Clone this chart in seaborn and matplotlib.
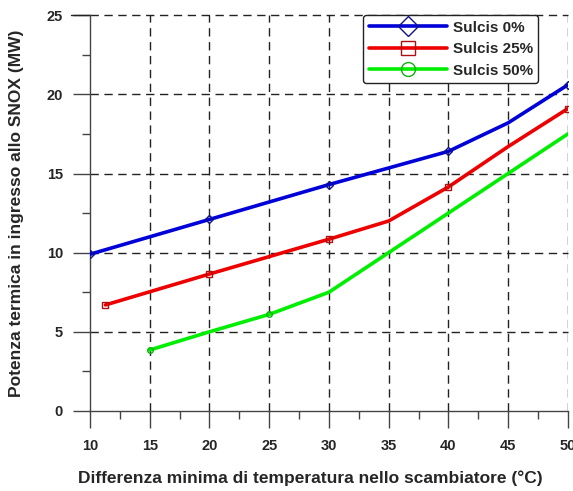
import matplotlib
matplotlib.use("Agg")
import matplotlib.pyplot as plt
from matplotlib.lines import Line2D
from matplotlib.ticker import MultipleLocator
import seaborn as sns
import pandas as pd

sns.set_theme(style="white")
plt.rcParams["font.family"] = ["Liberation Sans", "DejaVu Sans"]
plt.rcParams["font.weight"] = "bold"

# Potenza termica (MW) vs differenza minima di temperatura (°C)
x_s0 = [10, 20, 25, 30, 35, 40, 45, 50]
y_s0 = [9.9, 12.1, 13.2, 14.3, 15.35, 16.4, 18.2, 20.6]

x_s25 = [11.3, 20, 25, 30, 35, 40, 45, 50]
y_s25 = [6.7, 8.65, 9.75, 10.85, 12.0, 14.15, 16.7, 19.1]

x_s50 = [15, 20, 25, 30, 35, 40, 45, 50]
y_s50 = [3.85, 5.0, 6.1, 7.5, 10.0, 12.5, 15.0, 17.5]

labels = ["Sulcis 0%", "Sulcis 25%", "Sulcis 50%"]
x_ticks = [10, 15, 20, 25, 30, 35, 40, 45, 50]
y_ticks = [0, 5, 10, 15, 20, 25]

series = [
    (x_s0, y_s0, labels[0], "#0000d8", "D", "#10108a", [0, 1, 3, 5, 7]),
    (x_s25, y_s25, labels[1], "#ee0000", "s", "#b01010", [0, 1, 3, 5, 7]),
    (x_s50, y_s50, labels[2], "#00ee00", "o", "#10b010", [0, 2]),
]

fig = plt.figure(figsize=(5.73, 4.91), dpi=100)
ax = fig.add_axes([0.157, 0.163, 0.834, 0.806])

handles = []
for xs, ys, lab, col, mk, mec, every in series:
    df = pd.DataFrame({"x": xs, "y": ys})
    sns.lineplot(data=df, x="x", y="y", ax=ax, color=col, lw=2.6,
                 marker=mk, markersize=4, markerfacecolor="none",
                 markeredgecolor=mec, markeredgewidth=1.0,
                 markevery=every, sort=False, legend=False, zorder=3)
    handles.append(Line2D([0], [0], color=col, lw=2.6, marker=mk,
                          markersize=10, markerfacecolor="none",
                          markeredgecolor=mec, markeredgewidth=1.0))

ax.set_xlim(10, 50)
ax.set_ylim(0, 25)
ax.set_xticks(x_ticks)
ax.set_yticks(y_ticks)
ax.xaxis.set_minor_locator(MultipleLocator(2.5))
ax.yaxis.set_minor_locator(MultipleLocator(2.5))

for v in x_ticks[1:]:
    ax.axvline(v, color="#222222", lw=1.0, ls=(0, (6, 4)), zorder=1)
for v in y_ticks[1:]:
    ax.axhline(v, color="#222222", lw=1.0, ls=(0, (6, 4)), zorder=1,
               clip_on=False)
ax.plot([-0.04, 0], [1, 1], transform=ax.transAxes, color="#222222",
        lw=1.0, clip_on=False)

for s in ["top", "right"]:
    ax.spines[s].set_visible(False)
for s in ["left", "bottom"]:
    ax.spines[s].set_color("#444444")
    ax.spines[s].set_linewidth(1.0)

ax.tick_params(axis="both", which="major", direction="out", length=12,
               width=1.0, color="#444444", labelsize=10.5,
               left=True, bottom=True)
ax.tick_params(axis="x", which="major", pad=8)
ax.tick_params(axis="y", which="major", pad=7.5)
ax.tick_params(axis="both", which="minor", direction="out", length=6,
               width=1.0, color="#444444", left=True, bottom=True)
for t in ax.get_xticklabels() + ax.get_yticklabels():
    t.set_fontweight("bold")

ax.set_xlabel("Differenza minima di temperatura nello scambiatore (°C)",
              fontsize=12.5, fontweight="bold")
ax.set_ylabel("Potenza termica in ingresso allo SNOX (MW)",
              fontsize=12.5, fontweight="bold")
ax.xaxis.set_label_coords(0.462, -0.150)
ax.yaxis.set_label_coords(-0.138, 0.5)

leg = ax.legend(handles, labels, loc="upper right",
                bbox_to_anchor=(0.938, 1.0), handlelength=5.1,
                fontsize=11, frameon=True, fancybox=True,
                borderpad=0.35, labelspacing=0.5, handletextpad=0.4,
                borderaxespad=0.0)
leg.get_frame().set_edgecolor("#222222")
leg.get_frame().set_linewidth(1.0)
leg.get_frame().set_alpha(1)
for t in leg.get_texts():
    t.set_fontweight("bold")

fig.savefig("out.png", dpi=100, facecolor="white")
